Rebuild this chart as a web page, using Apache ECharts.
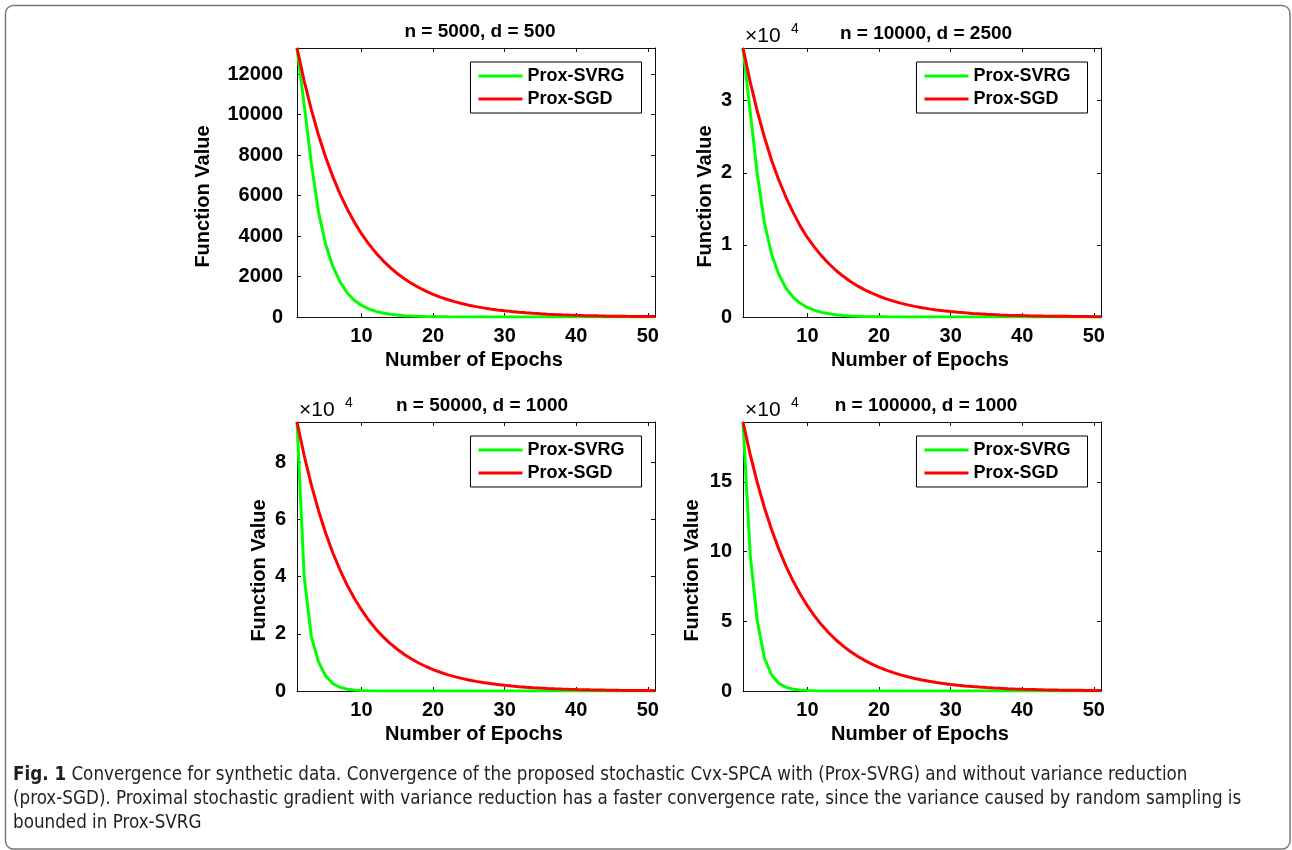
<!DOCTYPE html>
<html>
<head>
<meta charset="utf-8">
<script src="https://cdn.jsdelivr.net/npm/echarts@6/dist/echarts.min.js"></script>
<style>
html,body{margin:0;padding:0;background:#fff;}
#chart{width:1292px;height:850px;}
</style>
</head>
<body>
<div id="chart"></div>
<script>
// ---------------- data ----------------
const epochs = [1,2,3,4,5,6,7,8,9,10,11,12,13,14,15,16,17,18,19,20,21,22,23,24,25,26,27,28,29,30,31,32,33,34,35,36,37,38,39,40,41,42,43,44,45,46,47,48,49,50,51];
const seriesNames = ['Prox-SVRG', 'Prox-SGD'];
const panelTitles = ['n = 5000, d = 500', 'n = 10000, d = 2500', 'n = 50000, d = 1000', 'n = 100000, d = 1000'];
const xTicks = [10, 20, 30, 40, 50];
const yTicks1 = [0, 2000, 4000, 6000, 8000, 10000, 12000];
const yTicks2 = [0, 10000, 20000, 30000];
const yTicks3 = [0, 20000, 40000, 60000, 80000];
const yTicks4 = [0, 50000, 100000, 150000];
const yScale = [1, 10000, 10000, 10000];

const svrg1 = [13300,10500,7600,5200,3600,2500,1750,1200,830,580,400,280,195,135,95,65,45,32,22,15,10,7,5,3.5,2.5,1.7,1.2,0.8,0.6,0.4,0.3,0.2,0.15,0.1,0.07,0.05,0.04,0.03,0.02,0.01,0.01,0.01,0,0,0,0,0,0,0,0,0];
const sgd1 = [13300,11680,10250,9000,7900,6940,6090,5350,4700,4120,3620,3180,2790,2450,2150,1890,1660,1460,1280,1120,985,865,760,667,585,514,451,396,348,305,268,235,207,181,159,140,123,108,95,83,73,64,56,49,43,38,33,29,26,23,20];

const svrg2 = [37300,28500,19800,13000,8700,5900,4000,2750,1900,1320,920,640,445,310,215,150,104,72,50,35,24,17,12,8,6,4,3,2,1.4,1,0.7,0.5,0.35,0.25,0.17,0.12,0.08,0.06,0.04,0.03,0.02,0.01,0.01,0,0,0,0,0,0,0,0];
const sgd2 = [37300,32600,28500,24900,21700,19000,16600,14500,12600,11000,9650,8440,7380,6450,5640,4930,4310,3770,3300,2880,2520,2200,1925,1680,1470,1285,1125,983,860,752,657,574,502,439,384,336,293,256,224,196,171,150,131,115,100,88,77,67,59,51,45];

const svrg3 = [94000,40000,19000,10200,5200,2600,1300,650,330,170,85,43,22,11,6,3,1.5,0.8,0.4,0.2,0.1,0.05,0.03,0.02,0.01,0,0,0,0,0,0,0,0,0,0,0,0,0,0,0,0,0,0,0,0,0,0,0,0,0,0];
const sgd3 = [94000,82300,72000,63100,55200,48300,42300,37000,32400,28400,24800,21700,19000,16650,14600,12750,11170,9780,8560,7490,6560,5740,5030,4400,3850,3370,2950,2585,2260,1980,1735,1520,1330,1163,1020,892,781,684,598,524,459,402,352,308,270,236,207,181,158,139,121];

const svrg4 = [193000,98000,50000,23500,11500,5500,2700,1300,650,320,160,80,40,20,10,5,2.5,1.2,0.6,0.3,0.15,0.08,0.04,0.02,0.01,0,0,0,0,0,0,0,0,0,0,0,0,0,0,0,0,0,0,0,0,0,0,0,0,0,0];
const sgd4 = [193000,169800,149400,131500,115700,101800,89600,78900,69400,61100,53700,47300,41600,36600,32200,28300,24900,21950,19300,17000,14950,13150,11570,10180,8960,7890,6940,6110,5370,4730,4160,3660,3220,2835,2495,2195,1930,1700,1495,1315,1160,1020,896,789,694,611,537,473,416,366,322];

const captionLine1a = 'Fig. 1';
const captionLine1b = ' Convergence for synthetic data. Convergence of the proposed stochastic Cvx-SPCA with (Prox-SVRG) and without variance reduction';
const captionLine2 = '(prox-SGD). Proximal stochastic gradient with variance reduction has a faster convergence rate, since the variance caused by random sampling is';
const captionLine3 = 'bounded in Prox-SVRG';
const yAxisName = 'Function Value';
const xAxisName = 'Number of Epochs';

// ---------------- layout ----------------
const FONT = "'Liberation Sans', Arial, Helvetica, sans-serif";
const panels = [
  {left: 297, top: 48,  yMax: 13300,  yTicks: yTicks1, svrg: svrg1, sgd: sgd1, labelMargin: 14, yNameX: 203, titleX: 480, titleY: 32},
  {left: 743, top: 48,  yMax: 37300,  yTicks: yTicks2, svrg: svrg2, sgd: sgd2, labelMargin: 11, yNameX: 705, titleX: 926, titleY: 34},
  {left: 297, top: 422, yMax: 94000,  yTicks: yTicks3, svrg: svrg3, sgd: sgd3, labelMargin: 11, yNameX: 259, titleX: 482, titleY: 405.5},
  {left: 743, top: 422, yMax: 193000, yTicks: yTicks4, svrg: svrg4, sgd: sgd4, labelMargin: 11, yNameX: 692, titleX: 926, titleY: 405.5}
];
const PW = 358, PH = 269;

const grid = [], xAxis = [], yAxis = [], series = [], legend = [], graphic = [];
const axisLineStyle = {color: '#111', width: 1};
const tickLabelStyle = {fontFamily: FONT, fontWeight: 'bold', fontSize: 20, color: '#000'};

panels.forEach((p, i) => {
  grid.push({left: p.left, top: p.top, width: PW, height: PH, containLabel: false});
  xAxis.push({
    type: 'value', gridIndex: i, position: 'bottom', min: 1, max: 51,
    axisLine: {show: true, onZero: false, lineStyle: axisLineStyle},
    axisTick: {show: true, inside: true, length: 4, customValues: xTicks, lineStyle: axisLineStyle},
    axisLabel: Object.assign({show: true, margin: 9, customValues: xTicks}, tickLabelStyle),
    splitLine: {show: false}
  });
  xAxis.push({
    type: 'value', gridIndex: i, position: 'top', min: 1, max: 51,
    axisLine: {show: true, onZero: false, lineStyle: axisLineStyle},
    axisTick: {show: true, inside: true, length: 4, customValues: xTicks, lineStyle: axisLineStyle},
    axisLabel: {show: false},
    splitLine: {show: false}
  });
  const sc = yScale[i];
  yAxis.push({
    type: 'value', gridIndex: i, position: 'left', min: 0, max: p.yMax,
    axisLine: {show: true, onZero: false, lineStyle: axisLineStyle},
    axisTick: {show: true, inside: true, length: 4, customValues: p.yTicks, lineStyle: axisLineStyle},
    axisLabel: Object.assign({show: true, margin: p.labelMargin, customValues: p.yTicks,
      formatter: v => String(Math.round(v / sc))}, tickLabelStyle),
    splitLine: {show: false}
  });
  yAxis.push({
    type: 'value', gridIndex: i, position: 'right', min: 0, max: p.yMax,
    axisLine: {show: true, onZero: false, lineStyle: axisLineStyle},
    axisTick: {show: true, inside: true, length: 4, customValues: p.yTicks, lineStyle: axisLineStyle},
    axisLabel: {show: false},
    splitLine: {show: false}
  });
  const mk = (vals) => epochs.map((e, k) => [e, vals[k]]);
  series.push({
    name: seriesNames[0], type: 'line', xAxisIndex: 2 * i, yAxisIndex: 2 * i,
    data: mk(p.svrg), showSymbol: false, symbol: 'none', smooth: false,
    lineStyle: {color: '#00ff00', width: 3}, itemStyle: {color: '#00ff00'}, clip: true, z: 2
  });
  series.push({
    name: seriesNames[1], type: 'line', xAxisIndex: 2 * i, yAxisIndex: 2 * i,
    data: mk(p.sgd), showSymbol: false, symbol: 'none', smooth: false,
    lineStyle: {color: '#ff0000', width: 3}, itemStyle: {color: '#ff0000'}, clip: true, z: 3
  });
  legend.push({
    orient: 'vertical', right: 1292 - (p.left + PW - 13.5), top: p.top + 14,
    data: seriesNames, icon: 'rect', itemWidth: 44, itemHeight: 3, itemGap: 5,
    padding: [5, 17, 5, 8], borderColor: '#000', borderWidth: 1, backgroundColor: '#fff',
    selectedMode: false,
    textStyle: {fontFamily: FONT, fontWeight: 'bold', fontSize: 18, color: '#000', lineHeight: 18}
  });
  graphic.push({type: 'text', x: p.titleX, y: p.titleY, style: {
    text: panelTitles[i], fill: '#000', font: 'bold 19px ' + FONT, textAlign: 'center', textVerticalAlign: 'middle'}});
  graphic.push({type: 'text', x: p.yNameX, y: p.top + PH / 2 + 14, rotation: Math.PI / 2, style: {
    text: yAxisName, fill: '#000', font: 'bold 20px ' + FONT, textAlign: 'center', textVerticalAlign: 'middle'}});
  graphic.push({type: 'text', x: p.left + PW / 2 - 2, y: p.top + 312.5, style: {
    text: xAxisName, fill: '#000', font: 'bold 20px ' + FONT, textAlign: 'center', textVerticalAlign: 'middle'}});
  if (sc !== 1) {
    graphic.push({type: 'text', x: p.left + 2, y: p.top - 11.5, style: {
      text: '×10', fill: '#000', font: '21px ' + FONT, textAlign: 'left', textVerticalAlign: 'middle'}});
    graphic.push({type: 'text', x: p.left + 48, y: p.top - 19, style: {
      text: '4', fill: '#000', font: '14px ' + FONT, textAlign: 'left', textVerticalAlign: 'middle'}});
  }
});

graphic.push({type: 'rect', shape: {x: 5.5, y: 5.5, width: 1284.5, height: 843.5, r: 8},
  style: {fill: 'none', stroke: '#777', lineWidth: 1.5}, z: -1});

// caption: fit the font size so that the second line spans the same width as in the figure
const CAP_FONT = "'Liberation Sans Narrow', 'Arial Narrow', 'DejaVu Sans Condensed', sans-serif";
const mctx = document.createElement('canvas').getContext('2d');
mctx.font = '20px ' + CAP_FONT;
const capSize = Math.min(20, 20 * 1229 / mctx.measureText(captionLine2).width);
graphic.push({type: 'text', x: 13, y: 775, style: {
  text: '{b|' + captionLine1a + '}{r|' + captionLine1b + '}', textVerticalAlign: 'middle',
  rich: {
    b: {fontFamily: CAP_FONT, fontWeight: 'bold', fontSize: capSize, fill: '#231f20'},
    r: {fontFamily: CAP_FONT, fontSize: capSize, fill: '#231f20'}
  }}});
graphic.push({type: 'text', x: 13, y: 799, style: {
  text: captionLine2, fill: '#231f20', font: capSize + 'px ' + CAP_FONT, textVerticalAlign: 'middle'}});
graphic.push({type: 'text', x: 13, y: 823, style: {
  text: captionLine3, fill: '#231f20', font: capSize + 'px ' + CAP_FONT, textVerticalAlign: 'middle'}});

const chart = echarts.init(document.getElementById('chart'), null, {renderer: 'canvas'});
chart.setOption({
  animation: false,
  backgroundColor: '#fff',
  grid, xAxis, yAxis, series, legend, graphic
});
</script>
</body>
</html>
